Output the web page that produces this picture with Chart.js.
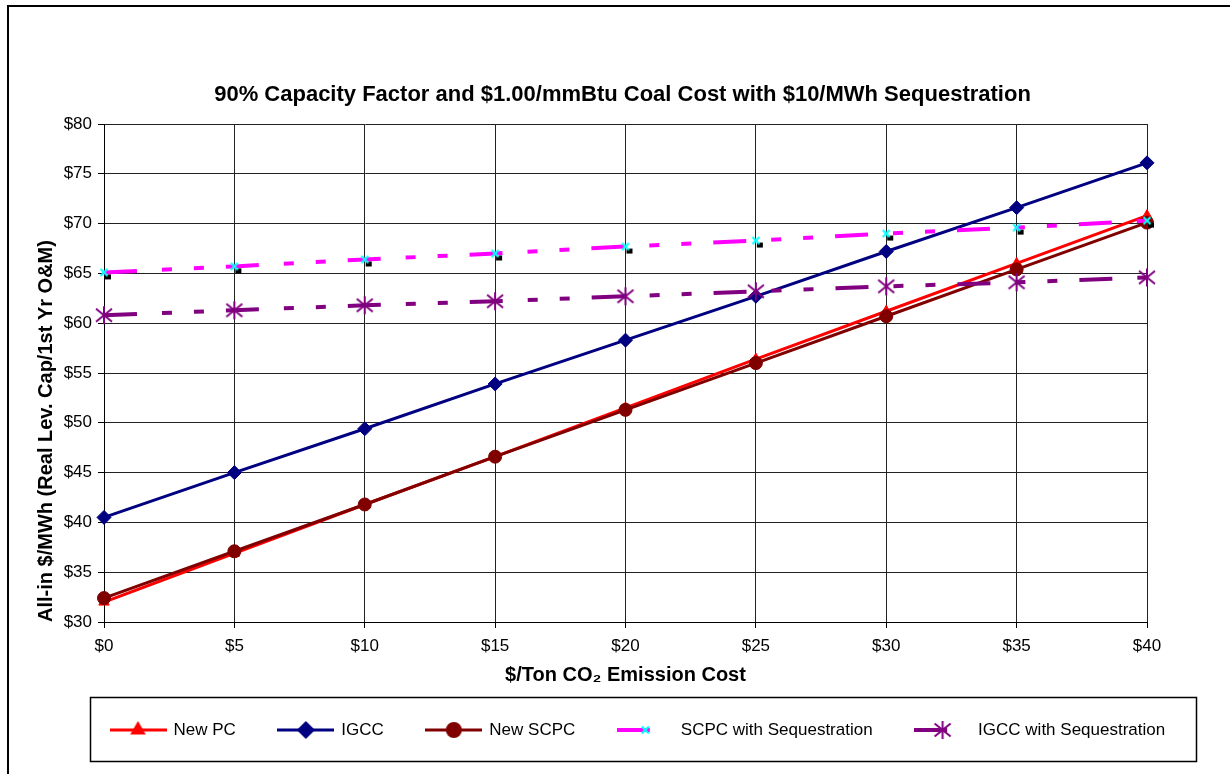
<!DOCTYPE html>
<html>
<head>
<meta charset="utf-8">
<script src="https://cdn.jsdelivr.net/npm/chart.js@4.4.1/dist/chart.umd.min.js"></script>
<style>
  html, body { margin: 0; padding: 0; background: #fff; }
</style>
</head>
<body>
<canvas id="costChart" width="1230" height="774"></canvas>
<script>
// x categories ($/ton CO2) and their tick labels
const emissionCost = [0, 5, 10, 15, 20, 25, 30, 35, 40];
const xTickLabels = emissionCost.map(c => '$' + c);

// All-in $/MWh
const newPC   = [32.0, 36.9, 41.8, 46.6, 51.5, 56.4, 61.2, 66.0, 70.8];
const igcc    = [40.5, 45.0, 49.4, 53.9, 58.3, 62.7, 67.2, 71.6, 76.1];
const newSCPC = [32.4, 37.1, 41.8, 46.6, 51.3, 56.0, 60.7, 65.4, 70.1];
const scpcSeq = [65.1, 65.7, 66.4, 67.0, 67.7, 68.3, 69.0, 69.6, 70.3];
const igccSeq = [60.8, 61.3, 61.8, 62.2, 62.7, 63.2, 63.7, 64.1, 64.6];

const seriesNames = ['New PC', 'IGCC', 'New SCPC', 'SCPC with Sequestration', 'IGCC with Sequestration'];
const yMin = 30, yMax = 80, yStep = 5;

const FONT = "'Liberation Sans', Arial, sans-serif";
const longDashDotDot = [33, 25, 10, 22, 10, 22];

function makeCanvas(w, h, draw) {
    const c = document.createElement('canvas');
    c.width = w;
    c.height = h;
    draw(c.getContext('2d'), w / 2, h / 2);
    return c;
}

// Excel style markers that Chart.js doesn't have
function drawCyanX(ctx, cx, cy, withShadow) {
    if (withShadow) {
        ctx.fillStyle = '#000';
        ctx.fillRect(cx + 1, cy + 2, 6, 5);
    }
    ctx.strokeStyle = '#00FFFF';
    ctx.lineWidth = 2;
    ctx.beginPath();
    ctx.moveTo(cx - 3.5, cy - 3.5); ctx.lineTo(cx + 3.5, cy + 3.5);
    ctx.moveTo(cx + 3.5, cy - 3.5); ctx.lineTo(cx - 3.5, cy + 3.5);
    ctx.stroke();
}

function drawPurpleStar(ctx, cx, cy) {
    ctx.strokeStyle = '#800080';
    ctx.lineWidth = 2;
    ctx.beginPath();
    ctx.moveTo(cx, cy - 9); ctx.lineTo(cx, cy + 9);
    ctx.moveTo(cx - 8, cy - 6.5); ctx.lineTo(cx + 8, cy + 6.5);
    ctx.moveTo(cx + 8, cy - 6.5); ctx.lineTo(cx - 8, cy + 6.5);
    ctx.stroke();
}

const scpcMarker = makeCanvas(18, 18, (ctx, cx, cy) => drawCyanX(ctx, cx, cy, true));
const igccSeqMarker = makeCanvas(22, 22, (ctx, cx, cy) => drawPurpleStar(ctx, cx, cy));

const seriesStyles = [
    {color: '#FF0000', width: 3, dash: [], point: 'triangle', radius: 6},
    {color: '#000080', width: 3, dash: [], point: 'rectRot', radius: 7},
    {color: '#800000', width: 3, dash: [], point: 'circle', radius: 6.5},
    {color: '#FF00FF', width: 4, dash: longDashDotDot, point: scpcMarker, radius: 5},
    {color: '#800080', width: 4, dash: longDashDotDot, point: igccSeqMarker, radius: 9}
];
const seriesData = [newPC, igcc, newSCPC, scpcSeq, igccSeq];

// legend icons: a piece of the line with the marker in the middle
const legendIcons = seriesStyles.map((s, i) => makeCanvas(57, 22, (ctx, cx, cy) => {
    ctx.strokeStyle = s.color;
    ctx.lineWidth = s.width;
    ctx.setLineDash(s.dash);
    ctx.beginPath();
    ctx.moveTo(0, cy);
    ctx.lineTo(57, cy);
    ctx.stroke();
    ctx.setLineDash([]);
    if (i === 3) {
        drawCyanX(ctx, cx, cy, false);
    } else if (i === 4) {
        drawPurpleStar(ctx, cx, cy);
    } else {
        ctx.fillStyle = s.color;
        ctx.strokeStyle = s.color;
        Chart.helpers.drawPoint(ctx, {pointStyle: s.point, radius: s.radius, borderWidth: 1, rotation: 0}, cx, cy);
    }
}));

const pageFrame = {
    id: 'pageFrame',
    beforeDraw(chart) {
        const ctx = chart.ctx;
        ctx.save();
        ctx.fillStyle = '#fff';
        ctx.fillRect(0, 0, chart.width, chart.height);
        ctx.restore();
    },
    afterDraw(chart) {
        const ctx = chart.ctx;
        ctx.save();
        ctx.strokeStyle = '#000';
        ctx.lineWidth = 2;
        ctx.beginPath();
        ctx.moveTo(8, chart.height);
        ctx.lineTo(8, 6);
        ctx.lineTo(chart.width, 6);
        ctx.stroke();
        // box round the legend
        ctx.lineWidth = 1.5;
        ctx.strokeRect(90.5, 697.5, 1106, 64);
        ctx.restore();
    }
};

// Excel puts title and legend a bit off the default Chart.js spots
const placeBlocks = {
    id: 'placeBlocks',
    afterLayout(chart) {
        const area = chart.chartArea;
        chart.titleBlock.left = area.left;
        chart.titleBlock.right = area.right - 6;

        const lg = chart.legend;
        const pad = lg.options.labels.padding;
        lg.left = 111 - pad;
        lg.right = chart.width;
        lg.width = lg.right - lg.left;
        lg.top = 730 - 8.5 - pad;
        lg.bottom = lg.top + lg.height;
    }
};

Chart.defaults.font.family = FONT;
Chart.defaults.color = '#000';

const ctx = document.getElementById('costChart').getContext('2d');

new Chart(ctx, {
    type: 'line',
    data: {
        labels: xTickLabels,
        datasets: seriesNames.map((name, i) => {
            const s = seriesStyles[i];
            return {
                label: name,
                data: seriesData[i],
                borderColor: s.color,
                backgroundColor: s.color,
                borderWidth: s.width,
                borderDash: s.dash,
                pointStyle: s.point,
                pointRadius: s.radius,
                pointHoverRadius: s.radius,
                pointBorderWidth: 1,
                pointBackgroundColor: s.color,
                pointBorderColor: s.color,
                tension: 0,
                fill: false,
                clip: false,
                order: seriesNames.length - i // later series on top, like Excel
            };
        })
    },
    options: {
        responsive: false,
        devicePixelRatio: 1,
        animation: false,
        events: [],
        layout: {
            padding: {top: 0, left: 0, right: 83, bottom: 12}
        },
        scales: {
            x: {
                type: 'category',
                offset: false,
                grid: {color: '#222', lineWidth: 1, tickLength: 6, tickColor: '#000'},
                border: {color: '#000', width: 1},
                ticks: {font: {size: 17}, padding: 8, maxRotation: 0, autoSkip: false},
                title: {
                    display: true,
                    text: '$/Ton CO₂ Emission Cost',
                    font: {size: 20, weight: 'bold'},
                    padding: {top: 0, bottom: 5}
                },
                afterFit(scale) { scale.height = 70; }
            },
            y: {
                min: yMin,
                max: yMax,
                grid: {color: '#222', lineWidth: 1, tickLength: 6, tickColor: '#000'},
                border: {color: '#000', width: 1},
                ticks: {
                    stepSize: yStep,
                    font: {size: 17},
                    padding: 6,
                    callback: v => '$' + v
                },
                title: {
                    display: true,
                    text: 'All-in $/MWh (Real Lev. Cap/1st Yr O&M)',
                    font: {size: 20, weight: 'bold'},
                    align: 'start',
                    padding: {top: 34, bottom: 0}
                },
                afterFit(scale) { scale.width = 104; }
            }
        },
        plugins: {
            title: {
                display: true,
                text: '90% Capacity Factor and $1.00/mmBtu Coal Cost with $10/MWh Sequestration',
                font: {size: 22, weight: 'bold'},
                color: '#000',
                padding: {top: 81.8, bottom: 15.8}
            },
            legend: {
                position: 'bottom',
                align: 'start',
                labels: {
                    font: {size: 17},
                    color: '#000',
                    usePointStyle: true,
                    pointStyleWidth: 54,
                    padding: 43,
                    sort: (a, b) => a.datasetIndex - b.datasetIndex,
                    generateLabels(chart) {
                        const items = Chart.defaults.plugins.legend.labels.generateLabels(chart);
                        items.forEach(item => {
                            item.pointStyle = legendIcons[item.datasetIndex];
                        });
                        return items;
                    }
                }
            },
            tooltip: {enabled: false}
        }
    },
    plugins: [pageFrame, placeBlocks]
});
</script>
</body>
</html>
